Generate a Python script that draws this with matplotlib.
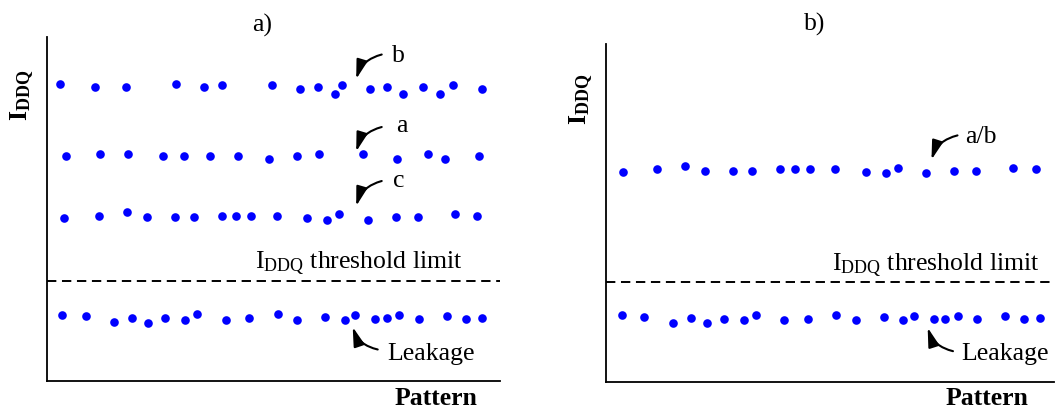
"""
IDDQ measurements per test pattern: a) three distinct current levels
above the threshold, b) levels a and b collapsed into one.
"""

import matplotlib
matplotlib.use('Agg')
import matplotlib.pyplot as plt

plt.rcParams['font.family'] = ['Liberation Serif', 'DejaVu Serif']
plt.rcParams['mathtext.fontset'] = 'custom'
plt.rcParams['mathtext.rm'] = 'Liberation Serif'
plt.rcParams['mathtext.bf'] = 'Liberation Serif:bold'
plt.rcParams['mathtext.it'] = 'Liberation Serif:italic'

# Panel a) -- pattern index (arbitrary units) and IDDQ level (arbitrary units)
a_b_x = [13.5, 48.0, 79.1, 129.1, 157.2, 175.4, 225.5, 253.5, 271.8, 288.0,
         294.8, 322.8, 340.7, 356.3, 376.6, 392.8, 406.7, 435.1]
a_b_y = [297.5, 294.1, 294.1, 297.5, 294.1, 295.8, 295.8, 292.4, 294.1, 287.3,
         295.8, 292.4, 294.1, 287.3, 294.1, 287.3, 295.8, 292.4]

a_a_x = [19.6, 53.7, 81.8, 116.3, 137.2, 163.3, 191.3, 222.4, 250.8, 272.4,
         316.1, 350.5, 381.7, 397.9, 432.0]
a_a_y = [225.5, 226.8, 226.8, 225.5, 225.5, 225.5, 225.5, 222.1, 225.5, 226.8,
         226.8, 222.1, 226.8, 222.1, 225.5]

a_c_x = [17.5, 52.0, 80.4, 100.4, 128.1, 147.0, 175.4, 189.3, 204.5, 229.9,
         260.6, 280.2, 292.1, 321.1, 348.9, 370.8, 408.0, 430.3]
a_c_y = [163.3, 165.3, 168.7, 164.0, 164.0, 164.0, 165.3, 165.3, 165.3, 165.3,
         162.9, 161.3, 166.7, 161.3, 164.0, 164.0, 166.7, 165.3]

a_leak_x = [15.8, 39.2, 67.2, 85.2, 101.0, 118.6, 137.9, 150.4, 179.1, 202.8, 230.9,
            250.8, 278.5, 297.8, 308.0, 327.9, 340.1, 352.6, 372.5, 400.2, 419.5, 435.4]
a_leak_y = [66.3, 64.9, 58.8, 63.2, 57.8, 62.6, 60.9, 66.6, 60.9, 62.6, 66.6,
            60.9, 63.9, 60.9, 65.6, 61.9, 62.6, 65.6, 61.9, 64.9, 61.9, 63.2]

# Panel b)
b_ab_x = [16.8, 51.0, 78.8, 99.0, 126.5, 145.6, 173.8, 188.2, 204.0, 228.1,
          259.7, 279.1, 291.2, 319.7, 347.9, 369.4, 406.6, 429.4]
b_ab_y = [210.4, 212.8, 216.1, 211.4, 211.4, 211.4, 212.8, 212.8, 212.8, 212.8,
          210.4, 208.7, 214.4, 208.7, 211.4, 211.4, 214.4, 212.8]

b_leak_x = [15.1, 37.9, 66.1, 84.5, 100.6, 117.4, 137.2, 149.3, 177.8, 201.6, 229.5,
            249.6, 277.5, 296.2, 307.6, 327.4, 338.8, 351.2, 371.0, 398.9, 418.0, 433.5]
b_leak_y = [67.1, 65.4, 59.4, 64.1, 58.7, 63.4, 61.7, 67.5, 61.7, 63.4, 67.5,
            61.7, 65.1, 61.7, 66.4, 62.8, 63.4, 66.4, 62.8, 65.8, 62.8, 64.1]

threshold = 100

FS = 18.5
DOT = dict(marker='o', ls='none', ms=6.2, color='#0000ff', mec='none')
ARROW = dict(arrowstyle='-|>,head_length=1.15,head_width=0.33', color='black',
             lw=1.5, shrinkA=0, shrinkB=0, mutation_scale=10)

fig = plt.figure(figsize=(10.56, 4.10), dpi=100)
ax1 = fig.add_axes([0.0442, 0.0683, 0.4293, 0.8402])
ax2 = fig.add_axes([0.5743, 0.0654, 0.4238, 0.8241])


def style(ax, xmax, ymax):
    ax.set_xlim(0, xmax)
    ax.set_ylim(0, ymax)
    for side in ('top', 'right'):
        ax.spines[side].set_visible(False)
    for side in ('left', 'bottom'):
        ax.spines[side].set_linewidth(1.3)
    ax.set_xticks([])
    ax.set_yticks([])
    ax.axhline(threshold, color='black', lw=1.4, dashes=(4.8, 2.9))


def arrow(ax, tip, start, rad):
    ax.annotate('', xy=tip, xytext=start,
                arrowprops=dict(connectionstyle=f'arc3,rad={rad}', **ARROW))


# a)
style(ax1, 453.3, 344.5)
for xs, ys in [(a_b_x, a_b_y), (a_a_x, a_a_y), (a_c_x, a_c_y), (a_leak_x, a_leak_y)]:
    ax1.plot(xs, ys, **DOT)

ax1.text(351.3, 326, 'b', fontsize=FS, ha='center', va='center')
arrow(ax1, (309.5, 302.0), (335.0, 326.5), 0.28)
ax1.text(355.3, 256, 'a', fontsize=FS, ha='center', va='center')
arrow(ax1, (309.5, 229.5), (335.0, 254), 0.28)
ax1.text(352.3, 201, 'c', fontsize=FS, ha='center', va='center')
arrow(ax1, (309.5, 175.0), (335.0, 200), 0.28)
ax1.text(340.4, 22, 'Leakage', fontsize=FS, ha='left', va='baseline')
arrow(ax1, (306.0, 54.0), (331.0, 31.5), -0.28)
ax1.text(208.5, 113.3, r'I$_{\mathrm{DDQ}}$ threshold limit', fontsize=FS,
         ha='left', va='baseline')

# b)
style(ax2, 447.5, 337.9)
for xs, ys in [(b_ab_x, b_ab_y), (b_leak_x, b_leak_y)]:
    ax2.plot(xs, ys, **DOT)

ax2.text(358.7, 246.2, 'a/b', fontsize=FS, ha='left', va='center')
arrow(ax2, (325.0, 222.5), (351.0, 246.8), 0.28)
ax2.text(354.6, 22.8, 'Leakage', fontsize=FS, ha='left', va='baseline')
arrow(ax2, (321.2, 54.5), (346.5, 31.0), -0.28)
ax2.text(225.5, 112.7, r'I$_{\mathrm{DDQ}}$ threshold limit', fontsize=FS,
         ha='left', va='baseline')

# panel titles, axis names
fig.text(262 / 1056, 1 - 25 / 410, 'a)', fontsize=FS, ha='center', va='center')
fig.text(815 / 1056, 1 - 24 / 410, 'b)', fontsize=FS, ha='center', va='center')
for xc, yc in [(22, 95), (581, 99)]:
    fig.text(xc / 1056, 1 - yc / 410, r'$\mathbf{I}_{\mathbf{DDQ}}$', fontsize=FS,
             rotation=90, ha='center', va='center')
for xr in (477, 1028):
    fig.text(xr / 1056, 1 - 399 / 410, 'Pattern', fontsize=FS, fontweight='bold',
             ha='right', va='center')

fig.savefig('out.png', dpi=100)
